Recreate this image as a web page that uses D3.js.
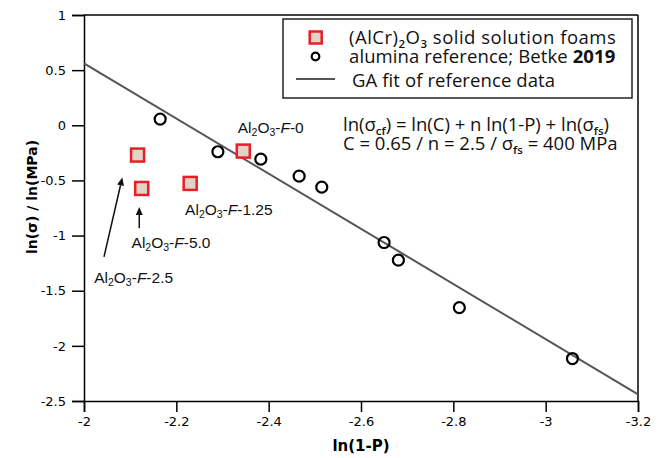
<!DOCTYPE html>
<html><head><meta charset="utf-8">
<script src="https://cdn.jsdelivr.net/npm/d3@7"></script>
<style>body{margin:0;background:#fff}</style>
</head><body>
<svg id="c" width="662" height="458"></svg>
<script>
// ---- data ----
const xTicks = [-2, -2.2, -2.4, -2.6, -2.8, -3, -3.2];
const xTickLabels = ["-2", "-2.2", "-2.4", "-2.6", "-2.8", "-3", "-3.2"];
const yTicks = [1, 0.5, 0, -0.5, -1, -1.5, -2, -2.5];
const yTickLabels = ["1", "0.5", "0", "-0.5", "-1", "-1.5", "-2", "-2.5"];
// alumina reference (Betke 2019)
const refX = [-2.165, -2.290, -2.383, -2.466, -2.515, -2.650, -2.681, -2.813, -3.058];
const refY = [0.056, -0.240, -0.307, -0.461, -0.561, -1.063, -1.223, -1.653, -2.115];
// (AlCr)2O3 foams
const foamNames = ["F-2.5", "F-5.0", "F-1.25", "F-0"];
const foamX = [-2.116, -2.125, -2.230, -2.345];
const foamY = [-0.270, -0.573, -0.527, -0.234];
// GA fit line endpoints
const fitX = [-2, -3.2];
const fitY = [0.561, -2.439];
// annotation labels (data units) and arrows
const annLabels = ["F-0", "F-1.25", "F-5.0", "F-2.5"];
const annX = [-2.333, -2.219, -2.103, -2.022];
const annY = [-0.071, -0.815, -1.117, -1.429];
const arrowFromX = [-2.1197, -2.0433];
const arrowFromY = [-0.933, -1.193];
const arrowToX = [-2.1197, -2.083];
const arrowToY = [-0.740, -0.473];

// ---- chart ----
const svg = d3.select("#c");
const L = 84, R = 638, T = 15, B = 401;
const x = d3.scaleLinear().domain([-2, -3.2]).range([L, R]);
const y = d3.scaleLinear().domain([-2.5, 1]).range([B, T]);
const tickFont = "'DejaVu Sans', Verdana, sans-serif";

// frame top/right
svg.append("line").attr("x1", L).attr("x2", R).attr("y1", T).attr("y2", T).attr("stroke", "#000").attr("stroke-width", 1.5);
svg.append("line").attr("x1", R).attr("x2", R).attr("y1", T).attr("y2", B).attr("stroke", "#000").attr("stroke-width", 1.5);

const xa = svg.append("g").attr("transform", `translate(0,${B})`)
  .call(d3.axisBottom(x).tickValues(xTicks).tickSize(11).tickPadding(5)
    .tickFormat((d, i) => xTickLabels[i]));
const ya = svg.append("g").attr("transform", `translate(${L},0)`)
  .call(d3.axisLeft(y).tickValues(yTicks).tickSize(12).tickPadding(6)
    .tickFormat((d, i) => yTickLabels[i]));
[xa, ya].forEach(a => {
  a.select(".domain").attr("stroke", "#000").attr("stroke-width", 1.5);
  a.selectAll(".tick line").attr("stroke", "#000").attr("stroke-width", 1.5);
  a.selectAll("text").attr("font-family", tickFont).attr("font-size", 13).attr("fill", "#000");
});

// axis titles
svg.append("text").attr("x", 361).attr("y", 451).attr("text-anchor", "middle")
  .attr("font-family", tickFont).attr("font-weight", "bold").attr("font-size", 15).text("ln(1-P)");
svg.append("text").attr("transform", `translate(37,197) rotate(-90)`).attr("text-anchor", "middle")
  .attr("font-family", tickFont).attr("font-weight", "bold").attr("font-size", 14).text("ln(σ) / ln(MPa)");

// fit line
svg.append("line").attr("x1", x(fitX[0])).attr("y1", y(fitY[0])).attr("x2", x(fitX[1])).attr("y2", y(fitY[1]))
  .attr("stroke", "#555").attr("stroke-width", 2);

// reference circles
svg.selectAll("circle.ref").data(refX).enter().append("circle").attr("class", "ref")
  .attr("cx", d => x(d)).attr("cy", (d, i) => y(refY[i])).attr("r", 5.5)
  .attr("fill", "none").attr("stroke", "#000").attr("stroke-width", 2.2);

// foam squares
const sq = 13;
svg.selectAll("rect.foam").data(foamX).enter().append("rect").attr("class", "foam")
  .attr("x", d => x(d) - sq / 2).attr("y", (d, i) => y(foamY[i]) - sq / 2)
  .attr("width", sq).attr("height", sq)
  .attr("fill", "#e2d3c8").attr("stroke", "#ee1c24").attr("stroke-width", 2.5);

// annotations
const annFont = "'Liberation Sans', Arial, sans-serif";
annLabels.forEach((lab, i) => {
  const t = svg.append("text").attr("x", x(annX[i])).attr("y", y(annY[i]))
    .attr("font-family", annFont).attr("font-size", 15.5).attr("fill", "#111");
  t.append("tspan").text("Al");
  t.append("tspan").attr("font-size", 10.5).attr("dy", 3).text("2");
  t.append("tspan").attr("dy", -3).text("O");
  t.append("tspan").attr("font-size", 10.5).attr("dy", 3).text("3");
  t.append("tspan").attr("dy", -3).text("-");
  t.append("tspan").attr("font-style", "italic").text("F");
  t.append("tspan").text(lab.slice(1));
});
arrowFromX.forEach((d, i) => {
  const x1 = x(d), y1 = y(arrowFromY[i]), x2 = x(arrowToX[i]), y2 = y(arrowToY[i]);
  const ang = Math.atan2(y2 - y1, x2 - x1), hl = 8, hw = 3.5;
  const bx = x2 - hl * Math.cos(ang), by = y2 - hl * Math.sin(ang);
  svg.append("line").attr("x1", x1).attr("y1", y1).attr("x2", bx).attr("y2", by)
    .attr("stroke", "#111").attr("stroke-width", 1.5);
  const px = -Math.sin(ang) * hw, py = Math.cos(ang) * hw;
  svg.append("path").attr("d", `M${x2},${y2}L${bx + px},${by + py}L${bx - px},${by - py}Z`).attr("fill", "#111");
});

// legend
const legFont = "'Open Sans', 'Noto Sans', sans-serif";
svg.append("rect").attr("x", 283).attr("y", 19).attr("width", 349).attr("height", 79)
  .attr("fill", "#fff").attr("stroke", "#222").attr("stroke-width", 1.5);
svg.append("rect").attr("x", 309.7).attr("y", 31.5).attr("width", 12).attr("height", 12)
  .attr("fill", "#e2d3c8").attr("stroke", "#ee1c24").attr("stroke-width", 2.5);
svg.append("circle").attr("cx", 315.5).attr("cy", 56.5).attr("r", 3.8)
  .attr("fill", "none").attr("stroke", "#000").attr("stroke-width", 2.2);
svg.append("line").attr("x1", 296).attr("x2", 335).attr("y1", 79).attr("y2", 79)
  .attr("stroke", "#555").attr("stroke-width", 2);

function rich(xp, yp, segs, size, ls) {
  const t = svg.append("text").attr("x", xp).attr("y", yp).attr("font-family", legFont)
    .attr("font-size", size).attr("fill", "#111").attr("letter-spacing", ls || 0);
  let shift = 0;
  segs.forEach(s => {
    const ts = t.append("tspan").text(s.t);
    const want = s.sub ? 4 : 0;
    if (want !== shift) { ts.attr("dy", want - shift); shift = want; }
    if (s.sub) ts.attr("font-size", size * 0.62).attr("font-weight", 600);
    if (s.b) ts.attr("font-weight", "bold");
  });
  return t;
}
rich(349, 44, [{t: "(AlCr)"}, {t: "2", sub: 1}, {t: "O"}, {t: "3", sub: 1}, {t: " solid solution foams"}], 18.5, 0.5);
rich(349, 63, [{t: "alumina reference; Betke "}, {t: "2019", b: 1}], 18.5, 0.1);
rich(352, 87, [{t: "GA fit of reference data"}], 18.5, 0.1);
rich(343, 131, [{t: "ln(σ"}, {t: "cf", sub: 1}, {t: ") = ln(C) + n ln(1-P) + ln(σ"}, {t: "fs", sub: 1}, {t: ")"}], 18.5, 0);
rich(343, 150, [{t: "C = 0.65 / n = 2.5 / σ"}, {t: "fs", sub: 1}, {t: " = 400 MPa"}], 18.5, 0);
</script>
</body></html>
